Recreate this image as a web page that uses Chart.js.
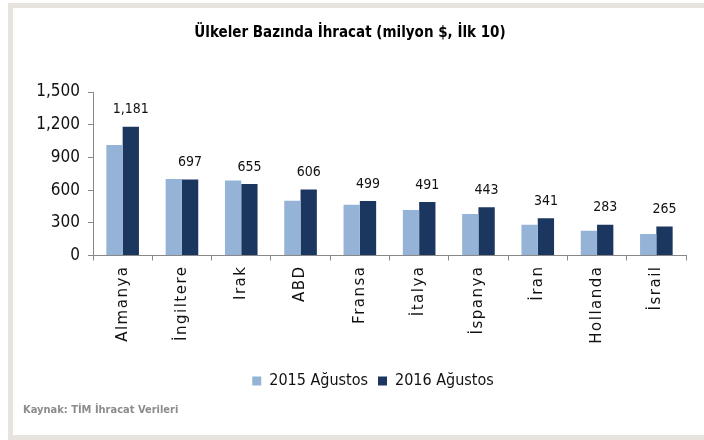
<!DOCTYPE html>
<html>
<head>
<meta charset="utf-8">
<script src="https://cdn.jsdelivr.net/npm/chart.js@4.4.0/dist/chart.umd.min.js"></script>
<style>
  html, body { margin: 0; padding: 0; background: #fff; overflow: hidden; }
  #wrap { width: 704px; height: 440px; }
</style>
</head>
<body>
<div id="wrap"><canvas id="myChart" width="704" height="440"></canvas></div>
<script>
const ulkeler = ['Almanya', 'İngiltere', 'Irak', 'ABD', 'Fransa', 'İtalya', 'İspanya', 'İran', 'Hollanda', 'İsrail']
const agustos2015 = [1013, 702, 688, 502, 466, 417, 380, 283, 228, 197]
const agustos2016 = [1181, 697, 655, 606, 499, 491, 443, 341, 283, 265]
const seriAdlari = ['2015 Ağustos', '2016 Ağustos']
const yTicks = [0, 300, 600, 900, 1200, 1500]

const narrow = '"Liberation Sans Narrow", "DejaVu Sans Condensed", "Open Sans", sans-serif'

// gray frame around the chart + source line
const cerceve = {
    id: 'cerceve',
    beforeDraw(chart) {
        const c = chart.ctx
        c.save()
        c.fillStyle = '#e7e4e0'
        c.fillRect(8, 3, 696, 5)
        c.fillRect(8, 3, 5, 437)
        c.fillRect(8, 435, 696, 5)
        c.restore()
    },
    afterDraw(chart) {
        const c = chart.ctx
        c.save()
        c.fillStyle = '#8c8c8c'
        c.font = 'bold 11px ' + narrow
        c.textBaseline = 'middle'
        c.fillText('Kaynak: TİM İhracat Verileri', 23, 410)
        c.restore()
    }
}

// value labels over the 2016 bars
const degerler = {
    id: 'degerler',
    afterDatasetsDraw(chart) {
        const c = chart.ctx
        const meta = chart.getDatasetMeta(1)
        c.save()
        c.fillStyle = '#111'
        c.font = '14px ' + narrow
        c.textAlign = 'center'
        c.textBaseline = 'bottom'
        meta.data.forEach((bar, i) => {
            c.fillText(agustos2016[i].toLocaleString('en-US'), bar.x, bar.y - 10)
        })
        c.restore()
    }
}

// spaced-out category labels, legend nudged right
const duzen = {
    id: 'duzen',
    afterLayout(chart) {
        chart.legend.left += 23
        chart.legend.right += 23
    },
    afterUpdate(chart) {
        const xs = chart.scales.x
        if (xs._spaced) return
        const orig = xs.drawLabels.bind(xs)
        xs.drawLabels = function (area) {
            chart.ctx.save()
            chart.ctx.letterSpacing = '1.5px'
            orig(area)
            chart.ctx.restore()
        }
        xs._spaced = true
    }
}

const ctx = document.getElementById('myChart')

const config = {
    type: 'bar',
    data: {
        labels: ulkeler,
        datasets: [{
            label: seriAdlari[0],
            data: agustos2015,
            backgroundColor: '#95b3d7'
        }, {
            label: seriAdlari[1],
            data: agustos2016,
            backgroundColor: '#1c375f'
        }]
    },
    options: {
        responsive: false,
        animation: false,
        devicePixelRatio: 1,
        categoryPercentage: 0.55,
        barPercentage: 1.0,
        layout: { padding: { left: 14, right: 18, top: 0, bottom: 41 } },
        plugins: {
            title: {
                display: true,
                text: 'Ülkeler Bazında İhracat (milyon $, İlk 10)',
                color: '#000',
                font: { family: narrow, size: 15, weight: 'bold' },
                padding: { top: 24, bottom: 50 }
            },
            legend: {
                position: 'bottom',
                labels: {
                    color: '#111',
                    font: { family: narrow, size: 16 },
                    boxWidth: 9,
                    boxHeight: 9,
                    padding: 10
                }
            },
            tooltip: { enabled: false }
        },
        scales: {
            x: {
                afterFit: (s) => { s.height = 107.5 },
                border: { color: '#888', width: 1 },
                grid: { display: true, drawOnChartArea: false, tickLength: 5, color: '#888', offset: true },
                ticks: {
                    color: '#111',
                    font: { family: '"DejaVu Sans", sans-serif', size: 15 },
                    minRotation: 90,
                    maxRotation: 90,
                    padding: 5
                }
            },
            y: {
                min: 0,
                max: 1500,
                afterFit: (s) => { s.width = 79 },
                afterBuildTicks: (s) => { s.ticks = yTicks.map(v => ({ value: v })) },
                border: { color: '#888', width: 1 },
                grid: { display: true, drawOnChartArea: false, tickLength: 5, color: '#888' },
                ticks: {
                    color: '#111',
                    font: { family: narrow, size: 17 },
                    padding: 8,
                    callback: (v) => v.toLocaleString('en-US')
                }
            }
        }
    },
    plugins: [cerceve, degerler, duzen]
}

const chart = new Chart(ctx, config)
</script>
</body>
</html>
